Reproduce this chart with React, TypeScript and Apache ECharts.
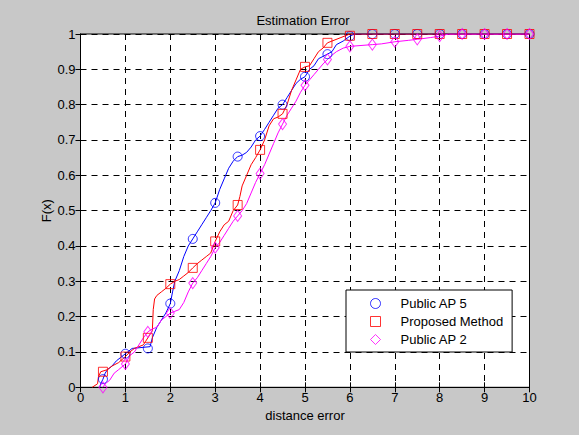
import React, { useEffect, useRef } from "react";
import * as echarts from "echarts";

const FONT = "Liberation Sans, Arial, sans-serif";

const seriesNames = ["Public AP 5", "Proposed Method", "Public AP 2"];
const seriesColors = ["#0000ff", "#ff0000", "#ff00ff"];

const xTickLabels = ["0", "1", "2", "3", "4", "5", "6", "7", "8", "9", "10"];
const yTickLabels = ["0", "0.1", "0.2", "0.3", "0.4", "0.5", "0.6", "0.7", "0.8", "0.9", "1"];

// marker positions
const markX = [0.5, 1, 1.5, 2, 2.5, 3, 3.5, 4, 4.5, 5, 5.5, 6, 6.5, 7, 7.5, 8, 8.5, 9, 9.5, 10];
const blueMarks = [0.023, 0.095, 0.11, 0.237, 0.42, 0.522, 0.653, 0.711, 0.8, 0.879, 0.943, 0.994, 1, 1, 1, 1, 1, 1, 1, 1];
const redMarks = [0.044, 0.087, 0.14, 0.292, 0.338, 0.413, 0.516, 0.672, 0.774, 0.907, 0.975, 0.995, 1, 1, 1, 1, 1, 1, 1, 1];
const magentaMarks = [0.0, 0.066, 0.157, 0.21, 0.295, 0.395, 0.485, 0.605, 0.745, 0.855, 0.928, 0.965, 0.97, 0.978, 0.985, 0.994, 1, 1, 1, 1];

// empirical CDF curves: x values and y values
const blueCdfX = [0.43, 0.45, 0.5, 0.55, 0.6, 0.7, 0.8, 0.9, 1.0, 1.05, 1.15, 1.55, 1.6, 1.7, 1.8, 1.9, 2.0, 2.05, 2.1, 2.2, 2.3, 2.4, 2.5, 2.6, 2.7, 2.8, 2.9, 3.0, 3.1, 3.2, 3.3, 3.4, 3.5, 3.6, 3.7, 3.8, 3.9, 4.0, 4.1, 4.2, 4.3, 4.4, 4.5, 4.6, 4.7, 4.8, 4.9, 5.0, 5.1, 5.2, 5.3, 5.5, 5.6, 5.7, 5.85, 6.0, 6.1, 10];
const blueCdfY = [0, 0.01, 0.023, 0.04, 0.05, 0.06, 0.075, 0.085, 0.095, 0.1, 0.11, 0.115, 0.14, 0.17, 0.19, 0.21, 0.237, 0.27, 0.3, 0.33, 0.37, 0.4, 0.42, 0.44, 0.46, 0.48, 0.5, 0.522, 0.56, 0.59, 0.62, 0.64, 0.653, 0.657, 0.665, 0.68, 0.7, 0.711, 0.73, 0.75, 0.77, 0.79, 0.8, 0.82, 0.84, 0.86, 0.872, 0.879, 0.9, 0.91, 0.93, 0.943, 0.95, 0.97, 0.98, 0.994, 1, 1];

const redCdfX = [0.26, 0.38, 0.4, 0.45, 0.6, 0.7, 0.85, 1.0, 1.1, 1.2, 1.3, 1.4, 1.45, 1.5, 1.55, 1.6, 1.62, 1.65, 1.7, 1.8, 1.9, 2.0, 2.1, 2.2, 2.3, 2.4, 2.5, 2.6, 2.7, 2.8, 2.9, 3.0, 3.1, 3.2, 3.3, 3.4, 3.5, 3.55, 3.6, 3.7, 3.8, 3.9, 4.0, 4.1, 4.2, 4.3, 4.4, 4.5, 4.6, 4.7, 4.8, 4.9, 5.0, 5.1, 5.2, 5.3, 5.4, 5.5, 5.6, 5.8, 5.9, 6.0, 10];
const redCdfY = [0, 0.01, 0.03, 0.044, 0.05, 0.06, 0.07, 0.087, 0.1, 0.11, 0.115, 0.12, 0.13, 0.14, 0.15, 0.16, 0.22, 0.25, 0.26, 0.27, 0.28, 0.292, 0.3, 0.305, 0.315, 0.325, 0.338, 0.35, 0.36, 0.37, 0.38, 0.413, 0.44, 0.46, 0.47, 0.5, 0.516, 0.54, 0.57, 0.6, 0.63, 0.65, 0.672, 0.7, 0.74, 0.76, 0.765, 0.774, 0.8, 0.84, 0.87, 0.9, 0.907, 0.91, 0.93, 0.95, 0.96, 0.975, 0.98, 0.99, 0.995, 1, 1];

const magentaCdfX = [0.5, 0.55, 0.65, 0.75, 0.85, 1.0, 1.1, 1.2, 1.3, 1.4, 1.5, 1.6, 1.7, 1.8, 1.9, 2.0, 2.1, 2.2, 2.3, 2.4, 2.5, 2.6, 2.7, 2.8, 2.9, 3.0, 3.1, 3.2, 3.3, 3.4, 3.5, 3.6, 3.7, 3.8, 3.9, 4.0, 4.1, 4.2, 4.3, 4.4, 4.5, 4.6, 4.7, 4.8, 4.9, 5.0, 5.1, 5.2, 5.3, 5.4, 5.5, 5.6, 5.7, 5.85, 6.0, 6.5, 6.7, 7.0, 7.3, 7.5, 7.8, 8.0, 8.2, 10];
const magentaCdfY = [0, 0.01, 0.02, 0.04, 0.05, 0.066, 0.09, 0.1, 0.12, 0.14, 0.157, 0.165, 0.17, 0.19, 0.2, 0.21, 0.215, 0.22, 0.24, 0.27, 0.295, 0.31, 0.33, 0.35, 0.37, 0.395, 0.41, 0.43, 0.45, 0.47, 0.485, 0.5, 0.52, 0.55, 0.58, 0.605, 0.63, 0.66, 0.69, 0.72, 0.745, 0.77, 0.79, 0.81, 0.835, 0.855, 0.87, 0.885, 0.9, 0.915, 0.928, 0.94, 0.95, 0.96, 0.965, 0.97, 0.972, 0.978, 0.982, 0.985, 0.99, 0.994, 1, 1];

const markSymbols: any[] = ["circle", "rect", "diamond"];
const markSizes: any[] = [9, 9, [8, 11]];

function pairs(xs: number[], ys: number[]) {
  return xs.map((x, i) => [x, ys[i]]);
}

export default function App() {
  const ref = useRef<HTMLDivElement>(null);
  useEffect(() => {
    if (!ref.current) return;
    const chart = echarts.init(ref.current, undefined, { renderer: "svg" });
    const cdfs = [
      pairs(blueCdfX, blueCdfY),
      pairs(redCdfX, redCdfY),
      pairs(magentaCdfX, magentaCdfY),
    ];
    const marks = [blueMarks, redMarks, magentaMarks];

    const axisCommon = {
      axisLine: { show: true, lineStyle: { color: "#000", width: 1 } },
      axisTick: { show: true, inside: true, length: 5, lineStyle: { color: "#000" } },
    };

    const option: any = {
      animation: false,
      backgroundColor: "#c8c8c8",
      textStyle: { fontFamily: FONT },
      title: {
        text: "Estimation Error",
        left: 303,
        top: 14,
        padding: 0,
        textAlign: "center",
        textStyle: { fontSize: 13, fontWeight: "normal", color: "#000", fontFamily: FONT },
      },
      grid: {
        left: 80.5,
        right: 49.5,
        top: 34,
        bottom: 47.7,
        show: true,
        backgroundColor: "#ffffff",
        borderColor: "#000",
        borderWidth: 1,
      },
      legend: {
        data: seriesNames.map((n, i) => ({
          name: n,
          icon: markSymbols[i],
          itemStyle: { color: "rgba(255,255,255,0)", borderColor: seriesColors[i], borderWidth: 1 },
        })),
        orient: "vertical",
        left: 346,
        top: 290,
        backgroundColor: "#ffffff",
        borderColor: "#000",
        borderWidth: 1,
        borderRadius: 0,
        padding: [7, 9, 6, 24],
        itemGap: 5,
        itemWidth: 10,
        itemHeight: 10,
        selectedMode: false,
        itemStyle: { borderWidth: 1 },
        textStyle: { color: "#000", fontSize: 13, fontFamily: FONT, padding: [0, 0, 0, 15] },
      },
      xAxis: [
        {
          type: "value",
          min: 0,
          max: 10,
          interval: 1,
          position: "bottom",
          ...axisCommon,
          axisLabel: {
            color: "#000",
            fontSize: 13,
            fontFamily: FONT,
            margin: 4,
            formatter: (v: number) => xTickLabels[Math.round(v)] ?? "",
          },
          splitLine: { show: true, lineStyle: { color: "#000", width: 1, type: [6, 5] } },
          name: "distance error",
          nameLocation: "middle",
          nameGap: 22,
          nameMoveOverlap: false,
          nameTextStyle: { color: "#000", fontSize: 13, fontFamily: FONT },
        },
        {
          type: "value",
          min: 0,
          max: 10,
          interval: 1,
          position: "top",
          ...axisCommon,
          axisLabel: { show: false },
          splitLine: { show: false },
        },
      ],
      yAxis: [
        {
          type: "value",
          min: 0,
          max: 1,
          interval: 0.1,
          position: "left",
          ...axisCommon,
          axisLabel: {
            color: "#000",
            fontSize: 13,
            fontFamily: FONT,
            margin: 5,
            formatter: (v: number) => yTickLabels[Math.round(v * 10)] ?? "",
          },
          splitLine: { show: true, lineStyle: { color: "#000", width: 1, type: [6, 5] } },
          name: "F(x)",
          nameLocation: "middle",
          nameGap: 28,
          nameMoveOverlap: false,
          nameRotate: 90,
          nameTextStyle: { color: "#000", fontSize: 13, fontFamily: FONT },
        },
        {
          type: "value",
          min: 0,
          max: 1,
          interval: 0.1,
          position: "right",
          ...axisCommon,
          axisLabel: { show: false },
          splitLine: { show: false },
        },
      ],
      series: [
        ...cdfs.map((d, i) => ({
          type: "line",
          name: seriesNames[i] + " cdf",
          data: d,
          showSymbol: false,
          symbol: "none",
          silent: true,
          lineStyle: { color: seriesColors[i], width: 1 },
          itemStyle: { color: seriesColors[i] },
          z: 3 + i,
        })),
        ...marks.map((m, i) => ({
          type: "scatter",
          name: seriesNames[i],
          data: markX.map((x, j) => [x, m[j]]),
          symbol: markSymbols[i],
          symbolSize: markSizes[i],
          silent: true,
          itemStyle: { color: "rgba(255,255,255,0)", borderColor: seriesColors[i], borderWidth: 1 },
          z: 10 + i,
        })),
      ],
    };
    chart.setOption(option);
    return () => chart.dispose();
  }, []);
  return (
    <div
      ref={ref}
      style={{ position: "fixed", left: 0, top: 0, width: 579, height: 435 }}
    />
  );
}
